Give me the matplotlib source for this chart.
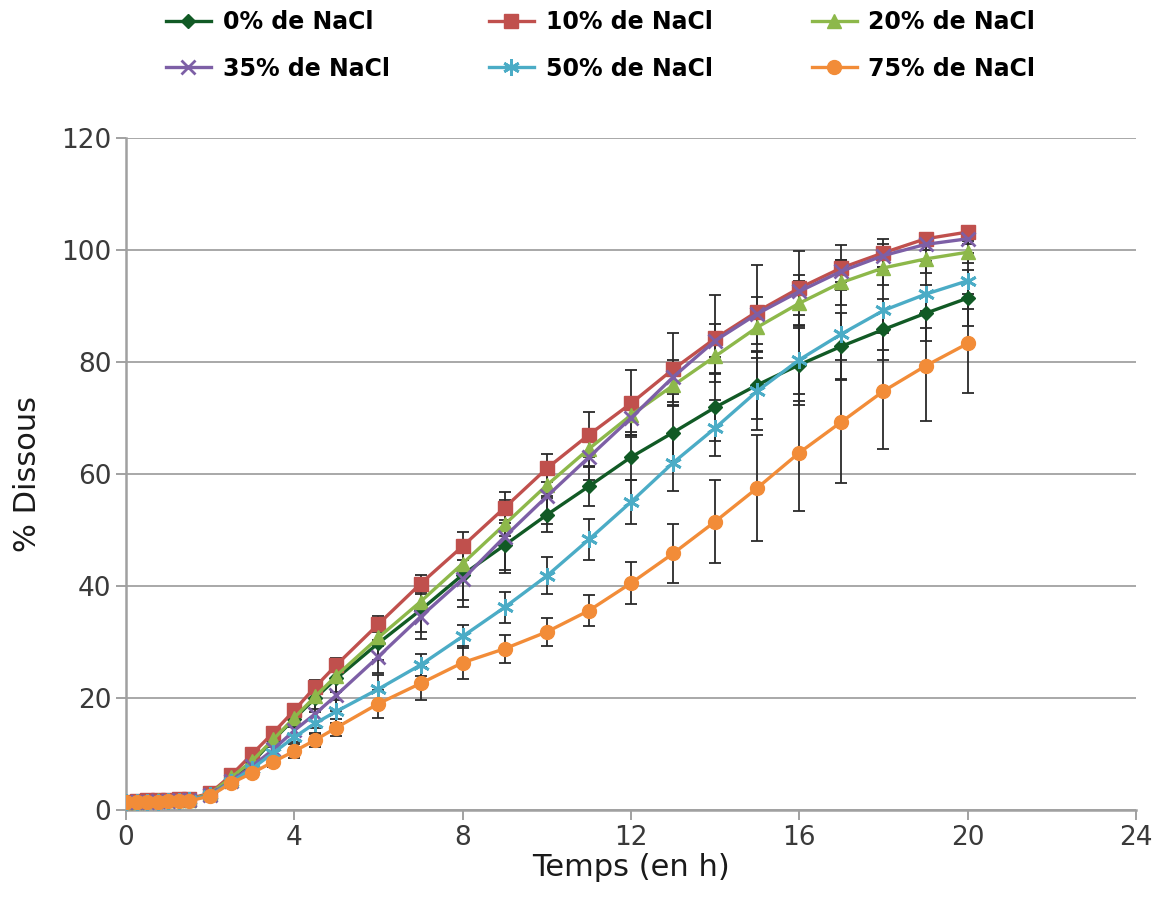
import matplotlib
matplotlib.use("Agg")
import matplotlib.pyplot as plt
import numpy as np

# ---------------- data ----------------
temps = [0, 0.25, 0.5, 0.75, 1, 1.25, 1.5, 2, 2.5, 3, 3.5, 4, 4.5, 5,
         6, 7, 8, 9, 10, 11, 12, 13, 14, 15, 16, 17, 18, 19, 20]

labels = ["0% de NaCl", "10% de NaCl", "20% de NaCl",
          "35% de NaCl", "50% de NaCl", "75% de NaCl"]

nacl_0 = [1.5, 1.5, 1.6, 1.6, 1.7, 1.7, 1.8, 2.8, 5.5, 8.5, 12.5, 16.3, 20.0, 23.5,
          29.8, 35.7, 42.0, 47.3, 52.7, 57.8, 63.0, 67.4, 71.9, 75.9, 79.5, 82.8, 85.8, 88.7, 91.4]
nacl_10 = [1.5, 1.6, 1.7, 1.8, 1.8, 1.9, 2.0, 3.0, 6.2, 10.0, 13.8, 17.8, 22.0, 25.9,
           33.2, 40.4, 47.1, 54.0, 61.0, 67.0, 72.6, 78.7, 84.2, 89.0, 93.2, 96.8, 99.5, 102.0, 103.2]
nacl_20 = [1.5, 1.5, 1.6, 1.7, 1.7, 1.8, 1.8, 2.9, 5.8, 8.8, 12.6, 16.5, 20.3, 24.0,
           30.8, 37.2, 44.0, 51.0, 58.0, 64.5, 70.5, 75.8, 81.0, 86.2, 90.5, 94.2, 96.8, 98.4, 99.6]
nacl_35 = [1.4, 1.5, 1.5, 1.6, 1.6, 1.7, 1.7, 2.7, 5.2, 7.8, 10.8, 14.2, 17.2, 20.5,
           27.4, 34.5, 41.2, 48.8, 56.0, 63.0, 70.0, 77.3, 83.8, 88.6, 92.6, 96.2, 99.0, 101.0, 102.0]
nacl_50 = [1.4, 1.4, 1.5, 1.5, 1.6, 1.6, 1.7, 2.6, 5.0, 7.4, 10.2, 13.0, 15.5, 17.6,
           21.6, 25.9, 31.0, 36.2, 41.8, 48.3, 55.0, 62.0, 68.2, 74.8, 80.4, 85.0, 89.2, 92.1, 94.5]
nacl_75 = [1.5, 1.5, 1.5, 1.5, 1.6, 1.6, 1.6, 2.5, 4.8, 6.6, 8.6, 10.5, 12.5, 14.7,
           19.0, 22.6, 26.3, 28.8, 31.8, 35.6, 40.5, 45.8, 51.5, 57.5, 63.8, 69.3, 74.8, 79.3, 83.3]

err_0 = [0.2] * 7 + [0.3, 0.8, 1.0, 1.2, 1.5, 2.0, 2.5,
                     3.0, 4.0, 4.5, 4.5, 3.0, 3.5, 4.0, 5.0, 6.0, 6.0, 6.5, 6.0, 5.5, 5.0, 5.0]
err_10 = [0.2] * 7 + [0.3, 0.5, 0.8, 1.0, 1.0, 1.2, 1.3,
                      1.5, 1.5, 2.5, 2.8, 2.5, 4.0, 6.0, 6.5, 7.7, 8.3, 6.6, 4.0, 2.5, 1.0, 1.0]
err_20 = [0.2] * 7 + [0.3, 0.5, 0.8, 1.0, 1.0, 1.2, 1.3,
                      1.5, 2.0, 2.0, 2.0, 2.0, 3.0, 3.0, 3.0, 3.0, 3.0, 4.0, 4.0, 3.0, 2.5, 2.0]
err_35 = [0.2] * 7 + [0.3, 0.8, 1.0, 1.5, 2.0, 2.5, 2.8,
                      3.0, 4.0, 5.0, 6.5, 5.0, 4.0, 3.0, 3.0, 3.0, 3.0, 3.0, 2.0, 2.0, 1.0, 1.0]
err_50 = [0.2] * 7 + [0.3, 0.5, 1.0, 1.5, 2.0, 2.0, 2.0,
                      2.5, 2.0, 2.0, 2.8, 3.3, 3.7, 4.0, 5.0, 5.0, 7.0, 8.0, 8.0, 7.0, 6.0, 5.0]
err_75 = [0.2] * 7 + [0.3, 0.5, 0.8, 1.0, 1.2, 1.3, 1.5,
                      2.5, 3.0, 3.0, 2.5, 2.5, 2.8, 3.7, 5.3, 7.4, 9.4, 10.5, 11.0, 10.3, 9.8, 8.9]

x_ticks = [0, 4, 8, 12, 16, 20, 24]
y_ticks = [0, 20, 40, 60, 80, 100, 120]

# ---------------- style ----------------
series = [nacl_0, nacl_10, nacl_20, nacl_35, nacl_50, nacl_75]
errors = [err_0, err_10, err_20, err_35, err_50, err_75]
colors = ["#115A25", "#C0504D", "#8DB84A", "#7D5FA6", "#4BACC6", "#F28C38"]
markers = ["D", "s", "^", "x", (6, 2, 0), "o"]
msizes = [7.5, 10, 10, 10, 12, 10]

plt.rcParams["font.family"] = ["DejaVu Sans"]

fig = plt.figure(figsize=(11.58, 9.15), dpi=100)
ax = fig.add_axes([0.1088, 0.1148, 0.8722, 0.7344])

handles = {}
for y, e, c, m, ms, lab in zip(series, errors, colors, markers, msizes, labels):
    ax.errorbar(temps, y, yerr=e, fmt="none", ecolor="#2a2a2a", elinewidth=1.3,
                capsize=4, capthick=1.3, zorder=2)
    mew = 2.0 if m in ("x",) or isinstance(m, tuple) else 1.0
    (h,) = ax.plot(temps, y, color=c, lw=2.4, marker=m, ms=ms,
                   markeredgewidth=mew, markeredgecolor=c, markerfacecolor=c,
                   label=lab, zorder=3)
    handles[lab] = h

ax.set_xlim(0, 24)
ax.set_ylim(0, 120)
ax.set_xticks(x_ticks)
ax.set_yticks(y_ticks)
ax.tick_params(axis="both", labelsize=19, colors="#9a9a9a", labelcolor="#3a3a3a",
               length=7, width=1.3, direction="out")
ax.yaxis.grid(True, color="#a8a8a8", lw=1.4)
ax.set_axisbelow(True)
for s in ["top", "right"]:
    ax.spines[s].set_visible(False)
for s in ["left", "bottom"]:
    ax.spines[s].set_color("#a0a0a0")
    ax.spines[s].set_linewidth(1.8)

ax.set_xlabel("Temps (en h)", fontsize=22, color="#1a1a1a", labelpad=2)
ax.set_ylabel("% Dissous", fontsize=22, color="#1a1a1a", labelpad=14)

order = ["0% de NaCl", "35% de NaCl", "10% de NaCl",
         "50% de NaCl", "20% de NaCl", "75% de NaCl"]
leg = fig.legend([handles[k] for k in order], order, ncol=3,
                 loc="upper left", bbox_to_anchor=(0.125, 1.012),
                 frameon=False, handlelength=1.9, handletextpad=0.5,
                 columnspacing=4.2, labelspacing=0.95,
                 prop={"family": "DejaVu Sans", "weight": "bold", "size": 17})

fig.savefig("out.png", dpi=100)
